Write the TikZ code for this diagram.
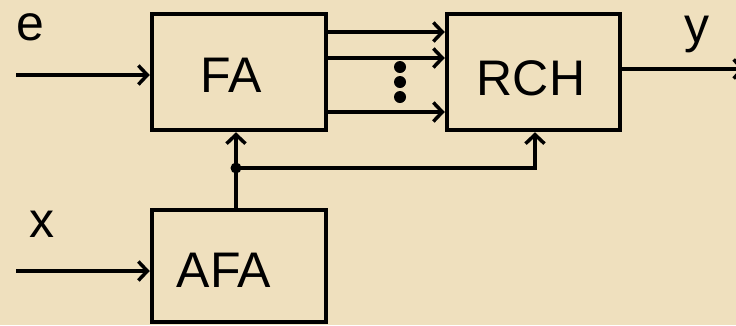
\documentclass[tikz,border=0pt]{standalone}
\usepackage{fontspec}
\setmainfont{Liberation Sans}
\usetikzlibrary{arrows.meta,calc}
\definecolor{parch}{RGB}{239,224,190}
\begin{document}
\begin{tikzpicture}[x=1pt,y=-1pt,
  blk/.style={draw=black,line width=4.5pt,minimum width=174pt,inner sep=0pt},
  lbl/.style={font=\fontsize{50}{50}\selectfont,inner sep=0pt},
  wire/.style={line width=4pt,draw=black},
  arr/.style={wire,-{Straight Barb[length=9pt,width=19pt,line width=3.5pt]}},
  dotm/.style={circle,fill=black,inner sep=0pt,minimum size=12pt}]
\fill[parch] (0,0) rectangle (736,325);
\clip (0,0) rectangle (736,325);
\node[blk,minimum height=116pt] (fa) at (239,72) {};
\node[blk,minimum height=116pt,minimum width=173pt] (rch) at (533.5,72) {};
\node[blk,minimum height=112pt] (afa) at (239,266) {};
\node[lbl] (tfa) at (231,75) {FA};
\node[lbl] (trch) at (531,78) {RCH};
\node[lbl] (tafa) at (224,270) {AFA};
\node[lbl] (te) at (30,27) {e};
\node[lbl] (tx) at (42,224) {x};
\node[lbl] (ty) at (697,34) {y};
% inputs
\coordinate (ein) at (16,75);
\coordinate (xin) at (16,271);
\draw[arr] (ein) -- (ein -| fa.west);
\draw[arr] (xin) -- (xin -| afa.west);
% FA -> RCH
\coordinate (r1) at (0,32);
\coordinate (r2) at (0,58);
\coordinate (r3) at (0,112);
\draw[arr] (fa.east |- r1) -- (rch.west |- r1);
\draw[arr] (fa.east |- r2) -- (rch.west |- r2);
\draw[arr] (fa.east |- r3) -- (rch.west |- r3);
\node[dotm] (d1) at (400,67) {};
\node[dotm] (d2) at (400,82) {};
\node[dotm] (d3) at (400,97) {};
% output
\coordinate (yout) at (745,69);
\draw[arr] (rch.east |- yout) -- (yout);
% feedback
\coordinate (jn) at (236,168);
\draw[arr] (afa.north -| jn) -- (fa.south -| jn);
\draw[arr] (jn) -| (rch.south -| 535,0);
\node[circle,fill=black,inner sep=0pt,minimum size=11pt] (jdot) at (jn) {};
\end{tikzpicture}
\end{document}
